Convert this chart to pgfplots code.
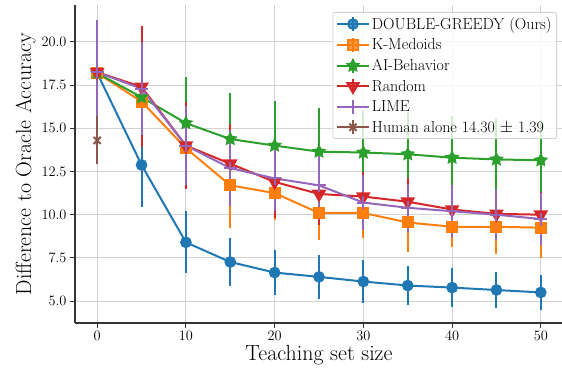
\documentclass[border=0pt]{standalone}
\usepackage{pgfplots}
\usepackage{pgfplotstable}
\pgfplotsset{compat=1.18}
\definecolor{tblue}{HTML}{1F77B4}
\definecolor{torange}{HTML}{FF7F0E}
\definecolor{tgreen}{HTML}{2CA02C}
\definecolor{tred}{HTML}{D62728}
\definecolor{tpurple}{HTML}{9467BD}
\definecolor{tbrown}{HTML}{8C564B}
\pgfdeclareplotmark{fstar}{%
\pgfpathmoveto{\pgfpointpolar{90}{1\pgfplotmarksize}}%
\pgfpathlineto{\pgfpointpolar{126}{0.5\pgfplotmarksize}}%
\pgfpathlineto{\pgfpointpolar{162}{1\pgfplotmarksize}}%
\pgfpathlineto{\pgfpointpolar{198}{0.5\pgfplotmarksize}}%
\pgfpathlineto{\pgfpointpolar{234}{1\pgfplotmarksize}}%
\pgfpathlineto{\pgfpointpolar{270}{0.5\pgfplotmarksize}}%
\pgfpathlineto{\pgfpointpolar{306}{1\pgfplotmarksize}}%
\pgfpathlineto{\pgfpointpolar{342}{0.5\pgfplotmarksize}}%
\pgfpathlineto{\pgfpointpolar{18}{1\pgfplotmarksize}}%
\pgfpathlineto{\pgfpointpolar{54}{0.5\pgfplotmarksize}}%
\pgfpathclose\pgfusepathqfillstroke}

\pgfplotstableread{
x y e
0 18.20 2.50
5 12.88 2.45
10 8.40 1.80
15 7.26 1.40
20 6.65 1.30
25 6.40 1.27
30 6.13 1.25
35 5.90 1.13
40 5.78 1.12
45 5.64 1.04
50 5.50 1.00
}\dgreedy
\pgfplotstableread{
x y e
0 18.20 2.80
5 16.55 2.60
10 13.85 2.20
15 11.70 2.45
20 11.25 1.55
25 10.10 1.55
30 10.10 1.45
35 9.55 1.70
40 9.30 1.17
45 9.30 1.60
50 9.25 1.75
}\kmed
\pgfplotstableread{
x y e
0 18.20 2.80
5 16.80 2.60
10 15.30 2.70
15 14.38 2.65
20 14.00 2.60
25 13.65 2.55
30 13.60 2.46
35 13.50 2.45
40 13.30 2.40
45 13.20 2.40
50 13.15 2.30
}\aibeh
\pgfplotstableread{
x y e
0 18.25 3.00
5 17.40 3.50
10 14.00 2.50
15 12.95 2.30
20 11.90 2.10
25 11.20 1.80
30 11.05 1.45
35 10.75 1.35
40 10.30 1.30
45 10.05 1.30
50 10.00 1.30
}\rand
\pgfplotstableread{
x y e
0 18.25 3.05
5 17.30 2.70
10 14.00 2.30
15 12.70 2.20
20 12.10 1.90
25 11.70 1.80
30 10.70 1.60
35 10.40 1.40
40 10.20 1.50
45 10.00 1.45
50 9.75 1.50
}\lime
\pgfplotstableread{
x y e
0 14.30 1.39
}\human

\pgfplotsset{ebar/.style={error bars/.cd, y dir=both, y explicit, error mark=none, error bar style={line width=2bp}}}

\begin{document}
\begin{tikzpicture}
\begin{axis}[
 scale only axis, width=488bp, height=318bp,
 xmin=-2.5, xmax=52.5, ymin=3.73, ymax=22.14,
 axis x line*=bottom, axis y line*=left,
 axis line style={line width=1.2bp, color=black!80, -},
 xtick={0,10,20,30,40,50}, ytick={5,7.5,10,12.5,15,17.5,20},
 yticklabel style={/pgf/number format/.cd, fixed, fixed zerofill, precision=1},
 tick align=outside, major tick length=5bp, tick style={line width=1bp, black!80},
 grid=major, major grid style={line width=1bp, gray!35},
 tick label style={font=\fontsize{14.5}{16}\selectfont},
 label style={font=\fontsize{22}{26}\selectfont},
 xlabel={Teaching set size}, ylabel={Difference to Oracle Accuracy},
 xlabel style={yshift=2bp}, ylabel style={yshift=-1bp},
 legend cell align=left,
 legend image code/.code={
   \draw[#1, mark=none] (16bp,-7bp) -- (16bp,7bp);
   \draw[mark repeat=2,mark phase=2,#1] plot coordinates {(0bp,0bp) (16bp,0bp) (32bp,0bp)};
 },
 legend style={at={(1,1)}, anchor=north east, xshift=-6bp, yshift=-7bp,
   font=\fontsize{16}{19}\selectfont, rounded corners=2bp, draw=gray!35, line width=0.8bp,
   fill=white, fill opacity=0.8, draw opacity=1, text opacity=1,
   row sep=4bp, inner xsep=3bp, inner ysep=3bp},
]
\addplot[tblue, line width=2bp, mark=*, mark size=4.8bp, mark options={solid}, ebar] table[x=x, y=y, y error=e] {\dgreedy};
\addlegendentry{DOUBLE-GREEDY (Ours)}
\addplot[torange, line width=2bp, mark=square*, mark size=5bp, ebar] table[x=x, y=y, y error=e] {\kmed};
\addlegendentry{K-Medoids}
\addplot[tgreen, line width=2bp, mark=fstar, mark size=5.5bp, ebar] table[x=x, y=y, y error=e] {\aibeh};
\addlegendentry{AI-Behavior}
\addplot[tred, line width=2bp, mark=triangle*, mark size=6.5bp, mark options={rotate=180}, ebar] table[x=x, y=y, y error=e] {\rand};
\addlegendentry{Random}
\addplot[tpurple, line width=2bp, mark=+, mark size=6.5bp, ebar] table[x=x, y=y, y error=e] {\lime};
\addlegendentry{LIME}
\addplot[tbrown, line width=2bp, mark=x, mark size=5bp, ebar] table[x=x, y=y, y error=e] {\human};
\addlegendentry{Human alone 14.30 $\pm$ 1.39}
\end{axis}
\pgfresetboundingbox
\path[use as bounding box] ([shift={(-75bp,-54bp)}]current axis.south west) rectangle ([shift={(487bp,5bp)}]current axis.north west);
\end{tikzpicture}
\end{document}
